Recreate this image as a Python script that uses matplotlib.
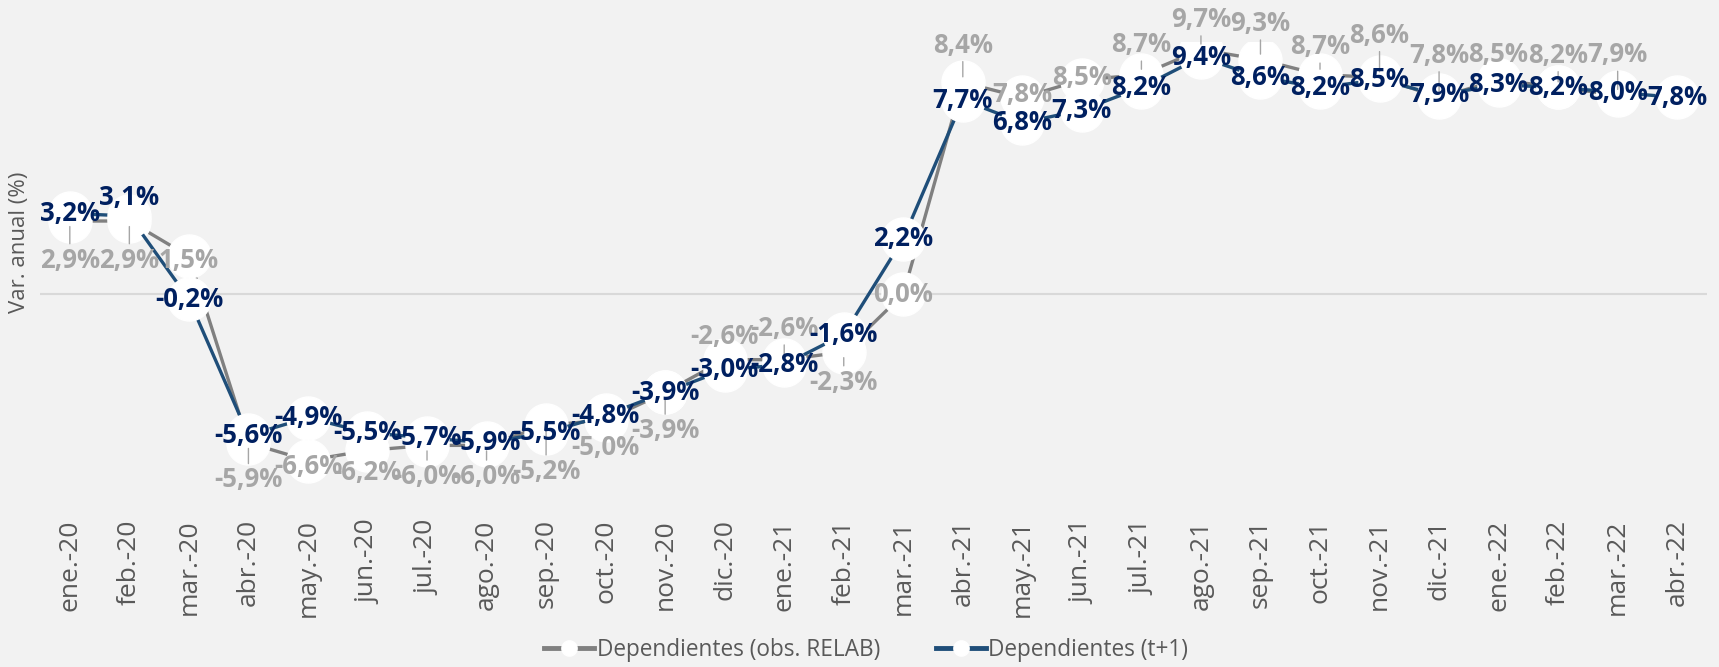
import matplotlib.pyplot as plt
from matplotlib.lines import Line2D
import numpy as np

plt.rcParams['font.family'] = ['Open Sans', 'DejaVu Sans']

months = ['ene.-20', 'feb.-20', 'mar.-20', 'abr.-20', 'may.-20', 'jun.-20', 'jul.-20',
          'ago.-20', 'sep.-20', 'oct.-20', 'nov.-20', 'dic.-20', 'ene.-21', 'feb.-21',
          'mar.-21', 'abr.-21', 'may.-21', 'jun.-21', 'jul.-21', 'ago.-21', 'sep.-21',
          'oct.-21', 'nov.-21', 'dic.-21', 'ene.-22', 'feb.-22', 'mar.-22', 'abr.-22']

# Dependientes (obs. RELAB)
obs_relab = [2.9, 2.9, 1.5, -5.9, -6.6, -6.2, -6.0, -6.0, -5.2, -5.0, -3.9, -2.6, -2.6, -2.3,
             0.0, 8.4, 7.8, 8.5, 8.7, 9.7, 9.3, 8.7, 8.6, 7.8, 8.5, 8.2, 7.9, np.nan]
# Dependientes (t+1)
t_plus_1 = [3.2, 3.1, -0.2, -5.6, -4.9, -5.5, -5.7, -5.9, -5.5, -4.8, -3.9, -3.0, -2.8, -1.6,
            2.2, 7.7, 6.8, 7.3, 8.2, 9.4, 8.6, 8.2, 8.5, 7.9, 8.3, 8.2, 8.0, 7.8]

# label placement for the grey series (pixels, positive = down)
gray_lbl_dy = [39, 39, 4, 37, 6, 22, 31, 31, 46, 27, 38, -23, -31, 30,
               0, -37, -3, -2, -30, -30, -36, -28, -42, -42, -25, -32, -40, 0]

BG = '#f2f2f2'
GRAY = '#808080'
BLUE = '#1f4e79'
NAVY = '#002060'
GRAY_TXT = '#a6a6a6'
AX_TXT = '#595959'

fig = plt.figure(figsize=(17.19, 6.67), dpi=100, facecolor=BG)
ax = fig.add_axes([0.0233, 0.234, 0.9697, 0.703], facecolor=BG)

x = np.arange(len(months))
ax.axhline(0, color='#d9d9d9', lw=1.5, zorder=1)

ax.plot(x, obs_relab, color=GRAY, lw=2.4, marker='o', ms=31, mfc='white', mec='white', zorder=2)
ax.plot(x, t_plus_1, color=BLUE, lw=2.4, marker='o', ms=31, mfc='white', mec='white', zorder=3)

def fmt(v):
    return f'{v:.1f}%'.replace('.', ',')

for i, (g, dy) in enumerate(zip(obs_relab, gray_lbl_dy)):
    if np.isnan(g):
        continue
    props = None
    if abs(dy) >= 28:
        props = dict(arrowstyle='-', color=GRAY_TXT, lw=1, shrinkA=0, shrinkB=4)
    ax.annotate(fmt(g), xy=(i, g), xytext=(0, -dy), textcoords='offset pixels',
                ha='center', va='center', fontsize=18.5, fontweight='bold', color=GRAY_TXT,
                arrowprops=props, zorder=5, annotation_clip=False)

for i, b in enumerate(t_plus_1):
    dy = 18 if i == 1 else 0
    ax.annotate(fmt(b), xy=(i, b), xytext=(0, dy), textcoords='offset pixels',
                ha='center', va='center', fontsize=18.5, fontweight='bold', color=NAVY,
                zorder=6, annotation_clip=False)

ax.set_xlim(-0.5, len(months) - 0.5)
ax.set_ylim(-8.6, 10)
ax.set_xticks(x)
ax.set_xticklabels(months, rotation=90, fontsize=19, color=AX_TXT)
ax.tick_params(axis='x', length=0, pad=6)
ax.set_yticks([])
for s in ax.spines.values():
    s.set_visible(False)
fig.text(0.0116, 0.637, 'Var. anual (%)', rotation=90, ha='center', va='center',
         fontsize=16, color=AX_TXT)

handles = [
    Line2D([0], [0], color=GRAY, lw=3.5, marker='o', ms=11, mfc='white', mec='white'),
    Line2D([0], [0], color=BLUE, lw=3.5, marker='o', ms=11, mfc='white', mec='white'),
]
leg = fig.legend(handles, ['Dependientes (obs. RELAB)', 'Dependientes (t+1)'],
                 loc='center', bbox_to_anchor=(0.504, 0.025), ncol=2, frameon=False,
                 fontsize=16.3, handlelength=2.2, handletextpad=0.1, columnspacing=2.5)
for t in leg.get_texts():
    t.set_color(AX_TXT)

fig.savefig('out.png', dpi=100, facecolor=BG)
